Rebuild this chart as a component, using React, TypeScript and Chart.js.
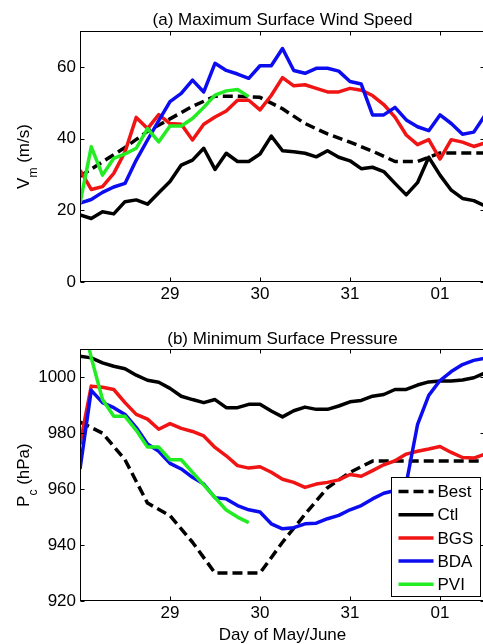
import React, { useEffect, useRef } from "react";
import { Chart, registerables } from "chart.js";

Chart.register(...registerables);

// ---------- data ----------
const TIME = [
  28, 28.125, 28.25, 28.375, 28.5, 28.625, 28.75, 28.875,
  29, 29.125, 29.25, 29.375, 29.5, 29.625, 29.75, 29.875,
  30, 30.125, 30.25, 30.375, 30.5, 30.625, 30.75, 30.875,
  31, 31.125, 31.25, 31.375, 31.5, 31.625, 31.75, 31.875,
  32, 32.125, 32.25, 32.375, 32.5,
];
const BEST_TIME = [
  28, 28.25, 28.5, 28.75, 29, 29.25, 29.5, 29.75, 30, 30.25,
  30.5, 30.75, 31, 31.25, 31.5, 31.75, 32, 32.25, 32.5,
];
const PVI_TIME = [
  28, 28.125, 28.25, 28.375, 28.5, 28.625, 28.75, 28.875,
  29, 29.125, 29.25, 29.375, 29.5, 29.625, 29.75, 29.875,
];

// (a) maximum surface wind speed (m/s)
const BEST_VMAX = [29.5, 33.5, 37.5, 42, 45.5, 49, 51.8, 51.8, 51.5, 48.3, 44.2, 41.3, 39, 36.5, 33.6, 33.6, 36, 36, 36];
const CTL_VMAX = [18.7, 17.7, 19.6, 19, 22.4, 22.9, 21.7, 24.9, 28, 32.6, 34, 37.3, 31.4, 35.9, 33.6, 33.6, 35.7, 40.7, 36.6, 36.3, 35.9, 34.9, 36.6, 34.8, 33.8, 31.6, 32, 30.8, 27.5, 24.3, 27.7, 34.8, 29.8, 25.6, 23.3, 22.7, 21.2];
const BGS_VMAX = [31.2, 25.8, 26.6, 30.3, 36.3, 45.9, 42.8, 46.7, 44.2, 44, 39.6, 44, 46, 47.7, 50.7, 50.7, 48, 52, 57, 54.7, 55, 54, 53, 53, 54, 53.5, 52, 49.5, 46, 41, 38.3, 39.7, 34.3, 39.7, 39, 37.8, 38.8];
const BDA_VMAX = [22, 23, 25, 26.5, 27.5, 34, 39.6, 45, 50.3, 52.6, 56.3, 53, 61, 59, 58, 56.8, 60.3, 60.3, 65.1, 59, 58.2, 59.6, 59.6, 58.8, 55.9, 55.2, 46.6, 46.6, 48.7, 45.2, 43.3, 42.2, 46.6, 44.2, 41.2, 41.8, 46.5];
const PVI_VMAX = [22, 37.7, 29.8, 34.5, 35.7, 37.3, 42.8, 39.1, 43.5, 43.5, 45.6, 48.7, 52.1, 53.3, 53.7, 51.7];

// (b) minimum surface pressure (hPa)
const BEST_PMIN = [984, 980, 970.5, 955, 950.5, 941, 930, 930, 930, 941, 951, 960.5, 966, 970, 970, 970, 970, 970, 970];
const CTL_PMIN = [1007.5, 1006.9, 1005.1, 1003.9, 1003, 1000.7, 998.9, 998.2, 996, 993.2, 992, 990.9, 992, 989.1, 989.1, 990.3, 990.3, 987.9, 985.8, 988, 989.3, 988.5, 988.5, 989.7, 991.2, 991.7, 993.2, 993.8, 995.6, 995.6, 997.2, 998.3, 998.6, 998.6, 999, 999.8, 1001.5];
const BGS_PMIN = [976, 996.8, 996.4, 995.6, 990.9, 986.7, 985, 981.4, 983.4, 981.7, 980.6, 979, 974.9, 971.9, 968.4, 967.5, 968, 966, 963.5, 962.4, 960.6, 961.8, 962.4, 963.3, 965.2, 964.6, 966.6, 968.7, 970.1, 972.5, 973.5, 974.3, 975.2, 973.1, 971.3, 971.1, 972.5];
const BDA_PMIN = [967.2, 995.3, 990.9, 989.1, 986.7, 982, 976.1, 973.5, 969.2, 967.2, 964.2, 961.8, 956.9, 956.5, 954.1, 952.6, 951.8, 947.6, 945.8, 946.2, 947.6, 947.8, 949.4, 950.6, 952.6, 954.1, 956.5, 958.5, 959.5, 962, 983, 993.5, 998.8, 1002, 1004.5, 1006, 1006.8];
const PVI_PMIN = [1024, 1007, 992, 986, 986, 981, 975, 975, 970.5, 970.5, 966, 961.5, 957, 952.5, 950, 948];

const SERIES_NAMES = ["Best", "Ctl", "BGS", "BDA", "PVI"];
const SERIES_COLORS = ["#000000", "#000000", "#f01414", "#0c0cf0", "#22ec22"];

const X_TICKS = [29, 30, 31, 32];
const X_TICK_LABELS = ["29", "30", "31", "01"];
const VMAX_TICKS = [0, 20, 40, 60];
const PMIN_TICKS = [920, 940, 960, 980, 1000];

// ---------- helpers ----------
const FONT = "'Liberation Sans', Arial, Helvetica, sans-serif";
Chart.defaults.font.family = FONT;
Chart.defaults.color = "#000";

function pts(xs: number[], ys: number[]) {
  return xs.map((x, i) => ({ x, y: ys[i] }));
}

const framePlugin = {
  id: "frame",
  afterDraw(chart: any, _args: any, o: any) {
    const { ctx, chartArea: a, scales } = chart;
    ctx.save();
    ctx.strokeStyle = "#000";
    ctx.lineWidth = 1;
    const L = Math.round(a.left) + 0.5;
    const T = Math.round(a.top) + 0.5;
    const R = Math.round(a.right) - 0.5;
    const B = Math.round(a.bottom) - 0.5;
    ctx.strokeRect(L, T, R - L, B - T);
    const TL = 4;
    ctx.beginPath();
    scales.x.ticks.forEach((t: any) => {
      const px = Math.round(scales.x.getPixelForValue(t.value)) + 0.5;
      ctx.moveTo(px, B); ctx.lineTo(px, B - TL);
      ctx.moveTo(px, T); ctx.lineTo(px, T + TL);
    });
    scales.y.ticks.forEach((t: any) => {
      const py = Math.round(scales.y.getPixelForValue(t.value)) + 0.5;
      ctx.moveTo(L, py); ctx.lineTo(L + TL, py);
      ctx.moveTo(R, py); ctx.lineTo(R - TL, py);
    });
    ctx.stroke();

    // y-axis title with subscript
    const cy = (a.top + a.bottom) / 2;
    const mainFont = `17px ${FONT}`;
    const subFont = `12px ${FONT}`;
    ctx.font = mainFont;
    const w1 = ctx.measureText(o.yMain).width;
    const w3 = ctx.measureText(o.yRest).width;
    ctx.font = subFont;
    const w2 = ctx.measureText(o.ySub).width;
    const total = w1 + w2 + w3;
    ctx.translate(28.5, cy);
    ctx.rotate(-Math.PI / 2);
    ctx.fillStyle = "#000";
    ctx.textBaseline = "alphabetic";
    ctx.textAlign = "left";
    let x0 = -total / 2;
    ctx.font = mainFont;
    ctx.fillText(o.yMain, x0, 0);
    x0 += w1;
    ctx.font = subFont;
    ctx.fillText(o.ySub, x0, 8);
    x0 += w2;
    ctx.font = mainFont;
    ctx.fillText(o.yRest, x0, 0);
    ctx.setTransform(1, 0, 0, 1, 0, 0);

    // legend
    if (o.legend) {
      const bw = 89, bh = 119;
      const bx = Math.round(a.right) - 5 - bw + 0.5;
      const by = Math.round(a.bottom) - 5 - bh + 0.5;
      ctx.fillStyle = "#fff";
      ctx.fillRect(bx, by, bw, bh);
      ctx.strokeStyle = "#000";
      ctx.lineWidth = 1;
      ctx.setLineDash([]);
      ctx.strokeRect(bx, by, bw, bh);
      ctx.font = `17px ${FONT}`;
      ctx.textBaseline = "middle";
      ctx.textAlign = "left";
      chart.data.datasets.forEach((ds: any, i: number) => {
        const yy = by + 14 + i * 23.2;
        ctx.strokeStyle = ds.borderColor;
        ctx.lineWidth = ds.borderWidth;
        ctx.setLineDash(ds.borderDash || []);
        ctx.lineCap = "butt";
        ctx.beginPath();
        ctx.moveTo(bx + 7, yy);
        ctx.lineTo(bx + 42, yy);
        ctx.stroke();
        ctx.setLineDash([]);
        ctx.fillStyle = "#000";
        ctx.fillText(ds.label, bx + 46, yy + 1);
      });
    }
    ctx.restore();
  },
};

function makeDatasets(best: number[], ctl: number[], bgs: number[], bda: number[], pvi: number[]) {
  const series = [
    pts(BEST_TIME, best),
    pts(TIME, ctl),
    pts(TIME, bgs),
    pts(TIME, bda),
    pts(PVI_TIME, pvi),
  ];
  return series.map((data, i) => ({
    label: SERIES_NAMES[i],
    data,
    borderColor: SERIES_COLORS[i],
    backgroundColor: SERIES_COLORS[i],
    borderWidth: 3.5,
    borderDash: i === 0 ? [10, 5] : [],
    borderJoinStyle: "round",
    pointRadius: 0,
    tension: 0,
    fill: false,
    clip: 0,
    order: 5 - i,
  }));
}

function makeConfig(p: any) {
  return {
    type: "line",
    data: { datasets: p.datasets },
    options: {
      animation: false,
      responsive: false,
      devicePixelRatio: 1,
      layout: { padding: { left: 0, right: 5, top: 0, bottom: 0 } },
      plugins: {
        legend: { display: false },
        tooltip: { enabled: false },
        title: {
          display: true,
          text: p.title,
          fullSize: false,
          font: { size: 17, weight: "normal", lineHeight: 1.2 },
          padding: { top: p.titleTop, bottom: p.titleBottom },
          color: "#000",
        },
        frame: { yMain: p.yMain, ySub: p.ySub, yRest: p.yRest, legend: p.legend },
      },
      scales: {
        x: {
          type: "linear",
          min: 28,
          max: 32.5,
          grid: { display: false, drawTicks: false },
          border: { display: false },
          afterBuildTicks: (s: any) => { s.ticks = X_TICKS.map((v) => ({ value: v })); },
          afterFit: (s: any) => { s.height = p.xHeight; },
          ticks: {
            autoSkip: false,
            maxRotation: 0,
            padding: 2,
            font: { size: 17, lineHeight: 1.2 },
            color: "#000",
            callback: (v: number) => X_TICK_LABELS[X_TICKS.indexOf(v)],
          },
          title: p.xTitle
            ? { display: true, text: p.xTitle, color: "#000", font: { size: 17, lineHeight: 1 }, padding: { top: 0, bottom: 0.5 } }
            : { display: false },
        },
        y: {
          type: "linear",
          min: p.yMin,
          max: p.yMax,
          grid: { display: false, drawTicks: false },
          border: { display: false },
          afterBuildTicks: (s: any) => { s.ticks = p.yTicks.map((v: number) => ({ value: v })); },
          afterFit: (s: any) => { s.width = 80; },
          ticks: {
            padding: 4,
            font: { size: 17 },
            color: "#000",
            callback: (v: number) => String(v),
          },
        },
      },
    },
    plugins: [framePlugin],
  };
}

export default function App() {
  const topRef = useRef<HTMLCanvasElement>(null);
  const botRef = useRef<HTMLCanvasElement>(null);

  useEffect(() => {
    const c1 = new Chart(topRef.current as any, makeConfig({
      datasets: makeDatasets(BEST_VMAX, CTL_VMAX, BGS_VMAX, BDA_VMAX, PVI_VMAX),
      title: "(a) Maximum Surface Wind Speed",
      titleTop: 10,
      titleBottom: 0.6,
      yMin: 0, yMax: 70, yTicks: VMAX_TICKS,
      yMain: "V", ySub: "m", yRest: " (m/s)",
      xHeight: 38,
      legend: false,
    }) as any);
    const c2 = new Chart(botRef.current as any, makeConfig({
      datasets: makeDatasets(BEST_PMIN, CTL_PMIN, BGS_PMIN, BDA_PMIN, PVI_PMIN),
      title: "(b) Minimum Surface Pressure",
      titleTop: 28.8,
      titleBottom: 0,
      yMin: 920, yMax: 1010, yTicks: PMIN_TICKS,
      yMain: "P", ySub: "c", yRest: " (hPa)",
      xHeight: 43,
      xTitle: "Day of May/June",
      legend: true,
    }) as any);
    return () => { c1.destroy(); c2.destroy(); };
  }, []);

  return (
    <div style={{ position: "fixed", left: 0, top: 0, width: 483, height: 644, overflow: "hidden", background: "#fff" }}>
      <canvas ref={topRef} width={490} height={320} style={{ position: "absolute", left: 0, top: 0, width: 490, height: 320 }} />
      <canvas ref={botRef} width={490} height={344} style={{ position: "absolute", left: 0, top: 300, width: 490, height: 344 }} />
    </div>
  );
}
